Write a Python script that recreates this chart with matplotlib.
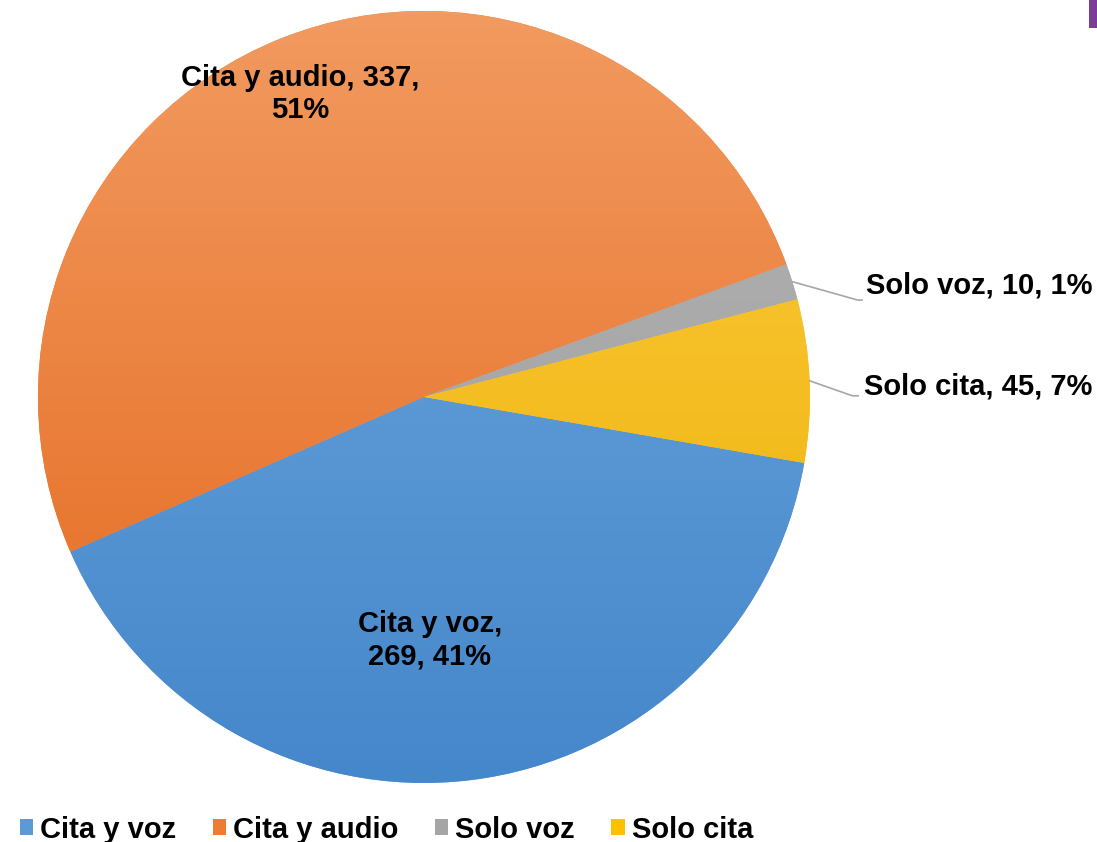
import numpy as np
import matplotlib.pyplot as plt
from matplotlib.patches import Patch, Rectangle
from matplotlib.colors import to_rgb

plt.rcParams['font.family'] = ['Liberation Sans', 'DejaVu Sans']

categories = ['Cita y voz', 'Cita y audio', 'Solo voz', 'Solo cita']
values = [269, 337, 10, 45]
percents = ['41%', '51%', '1%', '7%']
colors_top = ['#70A9DE', '#F29A60', '#B4B4B4', '#FFCB45']
colors_bottom = ['#4587CB', '#E4681C', '#9C9C9C', '#EAB000']
legend_colors = ['#5B9BD5', '#ED7D31', '#A5A5A5', '#FFC000']

fig = plt.figure(figsize=(10.97, 8.42), dpi=100)
ax = fig.add_axes([0.0346, 0.0701, 0.7037, 0.9169])

start = -9.85
wedges, _ = ax.pie(values, startangle=start, counterclock=False, radius=1,
                   colors=legend_colors, wedgeprops=dict(linewidth=0))

# vertical gradient clipped into each slice
for w, c1, c2 in zip(wedges, colors_top, colors_bottom):
    t = np.linspace(0, 1, 256)[:, None]
    a, b = np.array(to_rgb(c1)), np.array(to_rgb(c2))
    img = a[None, None, :] * (1 - t[..., None]) + b[None, None, :] * t[..., None]
    img = np.repeat(img, 2, axis=1)
    im = ax.imshow(img, extent=(-1, 1, -1, 1), origin='upper', aspect='auto', zorder=w.get_zorder())
    im.set_clip_path(w)

ax.set_xlim(-1, 1)
ax.set_ylim(-1, 1)
ax.set_aspect('equal')
ax.axis('off')

fs = 21
ax.text(-0.32, 0.785, 'Cita y audio, 337,\n51%', ha='center', va='center',
        fontsize=fs, fontweight='bold', linespacing=1.18)
ax.text(0.015, -0.63, 'Cita y voz,\n269, 41%', ha='center', va='center',
        fontsize=fs, fontweight='bold', linespacing=1.18)

# outside labels with leader lines
total = sum(values)
cum = np.cumsum([0] + values)
label_pos = {2: ((1.124, 0.251), (1.135, 0.251), (1.145, 0.29)),
             3: ((1.11, 0.003), (1.125, 0.003), (1.14, 0.028))}
for i, (elbow, end, tpos) in label_pos.items():
    mid = start - 360 * (cum[i] + values[i] / 2) / total
    x0, y0 = np.cos(np.radians(mid)), np.sin(np.radians(mid))
    ax.plot([x0, elbow[0], end[0]], [y0, elbow[1], end[1]], color='#A6A6A6',
            lw=1.2, clip_on=False, zorder=5)
    ax.text(tpos[0], tpos[1], f'{categories[i]}, {values[i]}, {percents[i]}',
            ha='left', va='center', fontsize=fs, fontweight='bold')

handles = [Patch(facecolor=c, edgecolor='none') for c in legend_colors]
fig.legend(handles, categories, loc='lower left', bbox_to_anchor=(-0.006, -0.033),
           ncol=4, frameon=False, prop=dict(size=fs, weight='bold'),
           handlelength=0.45, handleheight=0.45, handletextpad=0.25, columnspacing=1.25)

# cut-off logo corner
fig.patches.append(Rectangle((1089 / 1097, 1 - 28 / 842), 0.01, 28 / 842,
                             transform=fig.transFigure, facecolor='#7A3D98', edgecolor='none'))

plt.savefig('out.png', dpi=100)
